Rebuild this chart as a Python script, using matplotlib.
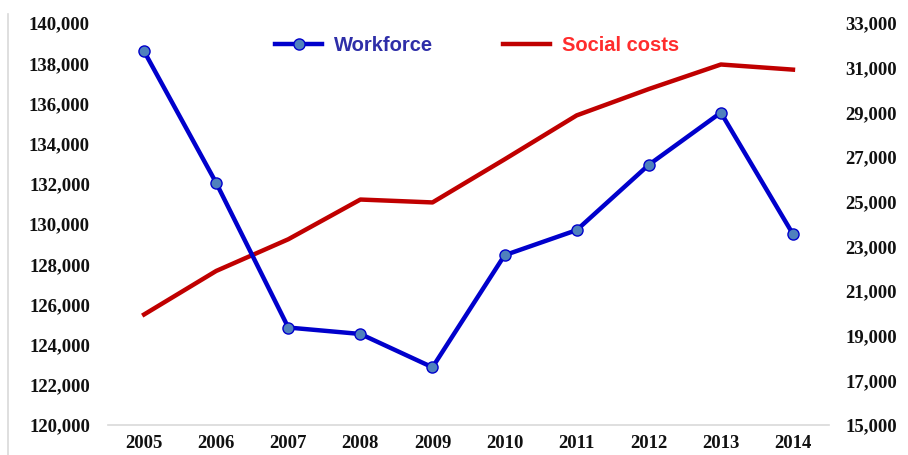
import matplotlib
matplotlib.use("Agg")
import matplotlib.pyplot as plt
from matplotlib.lines import Line2D
from matplotlib.ticker import FuncFormatter, FixedLocator

years = ["2005", "2006", "2007", "2008", "2009", "2010", "2011", "2012", "2013", "2014"]
workforce = [138600, 132050, 124850, 124530, 122870, 128450, 129700, 132950, 135550, 129500]
social_costs = [19950, 21900, 23320, 25100, 24970, 26900, 28870, 30050, 31150, 30920]

left_ticks = list(range(120000, 140001, 2000))
right_ticks = list(range(15000, 33001, 2000))

BLUE = "#0000cc"
RED = "#c00000"
TICK_FONT = dict(family="Liberation Serif", size=13.5, weight="bold")

fig = plt.figure(figsize=(9.08, 4.55), dpi=100, facecolor="white")
ax = fig.add_axes([0.119, 0.066, 0.794, 0.883])
ax2 = ax.twinx()

x = range(len(years))
l1, = ax.plot(x, workforce, color=BLUE, lw=3.2, marker="o", ms=8,
              mfc="#4f81bd", mec=BLUE, mew=1.0, zorder=3, label="Workforce")
l2, = ax2.plot(x, social_costs, color=RED, lw=3.2, zorder=2, label="Social costs")
ax.set_zorder(ax2.get_zorder() + 1)
ax.patch.set_visible(False)

ax.set_xlim(-0.5, len(years) - 0.5)
ax.set_xticks(list(x))
ax.set_xticklabels(years)
ax.set_ylim(left_ticks[0], left_ticks[-1])
ax.yaxis.set_major_locator(FixedLocator(left_ticks))
ax2.set_ylim(right_ticks[0], right_ticks[-1])
ax2.yaxis.set_major_locator(FixedLocator(right_ticks))

fmt = FuncFormatter(lambda v, _: f"{v:,.0f}")
ax.yaxis.set_major_formatter(fmt)
ax2.yaxis.set_major_formatter(fmt)

for a in (ax, ax2):
    for s in a.spines.values():
        s.set_visible(False)
    a.tick_params(length=0)
    for lab in a.get_xticklabels() + a.get_yticklabels():
        lab.set_fontproperties(TICK_FONT)
        lab.set_color("#111111")
ax.spines["bottom"].set_visible(True)
ax.spines["bottom"].set_color("#d9d9d9")
ax.spines["bottom"].set_linewidth(1.2)
ax.tick_params(axis="y", pad=13)
ax.tick_params(axis="x", pad=7)
ax2.tick_params(axis="y", pad=12)

leg = ax.legend(handles=[l1, l2], loc="center", bbox_to_anchor=(0.512, 0.945),
                ncol=2, frameon=False, handlelength=2.3, handletextpad=0.6,
                columnspacing=3.5, prop=dict(family="Liberation Sans", size=14.5, weight="bold"),
                labelcolor=["#2e2ea8", "#ff2d2d"])

# light frame edge on the left
fig.add_artist(Line2D([8 / 908, 8 / 908], [0, 1 - 14 / 455], color="#d9d9d9", lw=1.2))

fig.savefig("out.png", dpi=100, facecolor="white")
